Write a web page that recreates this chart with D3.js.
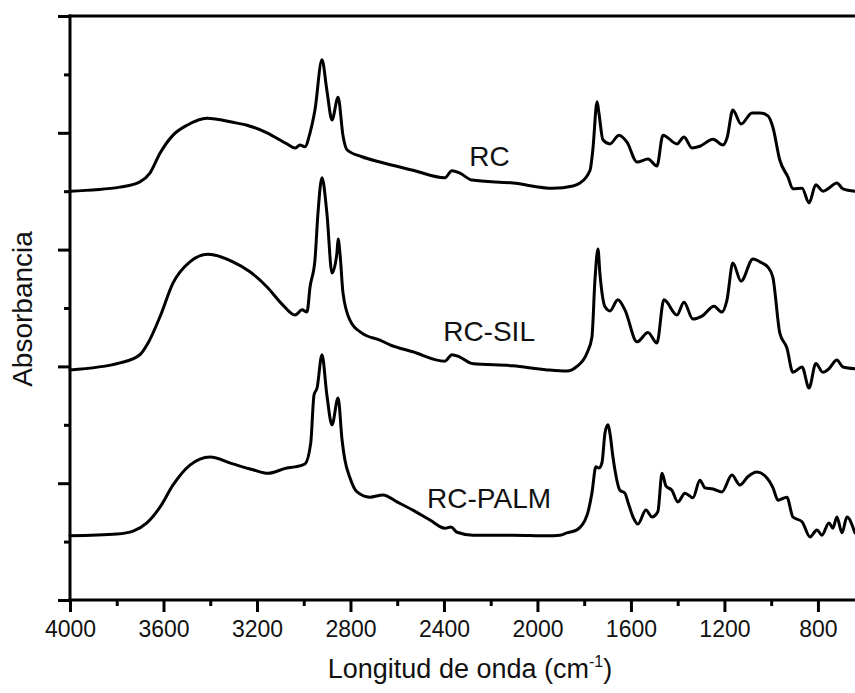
<!DOCTYPE html>
<html>
<head>
<meta charset="utf-8">
<script src="https://cdn.jsdelivr.net/npm/d3@7"></script>
<style>
  html, body { margin: 0; padding: 0; background: #ffffff; }
  svg { display: block; }
  text { font-family: "Liberation Sans", Arial, Helvetica, sans-serif; fill: #111; }
</style>
</head>
<body>
<svg id="chart" width="855" height="693"></svg>
<script>
// FTIR spectra, wavenumber (cm-1) vs absorbance (offset, arbitrary units)
const seriesNames = ["RC", "RC-SIL", "RC-PALM"];

const rcWavenumber = [4000, 3786, 3701, 3658, 3615, 3559, 3499, 3414, 3303, 3243, 3157, 3072, 3037, 3016, 2995, 2973, 2952, 2922, 2901, 2879, 2853, 2832, 2815, 2751, 2674, 2533, 2396, 2366, 2332, 2280, 2105, 1934, 1848, 1818, 1775, 1763, 1745, 1737, 1720, 1690, 1651, 1617, 1574, 1527, 1489, 1463, 1403, 1373, 1339, 1305, 1249, 1206, 1189, 1164, 1129, 1082, 1048, 1014, 993, 963, 928, 907, 868, 838, 809, 779, 757, 719, 693, 642];
const rcAbsorbance = [7.00, 7.07, 7.16, 7.31, 7.65, 7.96, 8.13, 8.25, 8.18, 8.13, 8.00, 7.81, 7.74, 7.79, 7.76, 8.00, 8.39, 9.25, 8.73, 8.22, 8.61, 7.95, 7.71, 7.59, 7.50, 7.36, 7.23, 7.35, 7.31, 7.19, 7.14, 7.05, 7.09, 7.14, 7.36, 7.71, 8.53, 8.34, 7.88, 7.81, 7.96, 7.84, 7.50, 7.55, 7.43, 7.96, 7.81, 7.93, 7.74, 7.77, 7.89, 7.79, 7.91, 8.39, 8.15, 8.34, 8.34, 8.29, 8.10, 7.53, 7.24, 7.04, 7.05, 6.80, 7.11, 7.00, 7.04, 7.14, 7.04, 7.00];

const silWavenumber = [4000, 3786, 3701, 3666, 3615, 3559, 3487, 3410, 3303, 3230, 3157, 3089, 3037, 3007, 2986, 2973, 2952, 2939, 2922, 2901, 2879, 2858, 2853, 2845, 2832, 2802, 2751, 2674, 2631, 2533, 2396, 2366, 2332, 2280, 2105, 1959, 1874, 1831, 1788, 1767, 1754, 1741, 1733, 1711, 1690, 1656, 1626, 1574, 1527, 1489, 1459, 1403, 1373, 1335, 1296, 1245, 1211, 1189, 1164, 1129, 1078, 1048, 1014, 993, 963, 933, 907, 868, 838, 809, 779, 753, 719, 693, 642];
const silAbsorbance = [3.94, 4.06, 4.20, 4.40, 4.85, 5.43, 5.79, 5.92, 5.79, 5.62, 5.36, 5.05, 4.88, 4.97, 4.93, 5.36, 5.82, 6.63, 7.23, 6.63, 5.60, 5.94, 6.18, 5.94, 5.26, 4.79, 4.57, 4.45, 4.37, 4.25, 4.09, 4.20, 4.16, 4.05, 4.01, 3.94, 3.92, 4.00, 4.23, 4.50, 5.48, 6.01, 5.60, 5.02, 4.95, 5.14, 4.97, 4.42, 4.58, 4.40, 5.14, 4.88, 5.10, 4.81, 4.86, 5.03, 4.93, 5.14, 5.77, 5.46, 5.84, 5.79, 5.70, 5.53, 4.57, 4.32, 3.90, 3.99, 3.63, 4.05, 3.90, 3.96, 4.11, 3.99, 3.96];

const palmWavenumber = [4000, 3799, 3730, 3671, 3615, 3559, 3487, 3401, 3303, 3217, 3153, 3072, 3037, 2995, 2970, 2956, 2943, 2922, 2901, 2879, 2853, 2836, 2824, 2802, 2772, 2717, 2661, 2601, 2533, 2460, 2396, 2370, 2344, 2276, 2105, 1959, 1904, 1874, 1831, 1788, 1767, 1750, 1737, 1724, 1711, 1698, 1690, 1677, 1647, 1626, 1613, 1591, 1570, 1536, 1510, 1485, 1467, 1450, 1425, 1399, 1369, 1335, 1305, 1283, 1249, 1211, 1168, 1134, 1100, 1061, 1018, 993, 971, 933, 907, 868, 834, 804, 783, 753, 736, 719, 697, 676, 642];
const palmAbsorbance = [1.10, 1.13, 1.18, 1.32, 1.59, 1.97, 2.31, 2.45, 2.33, 2.23, 2.17, 2.26, 2.28, 2.33, 2.69, 3.51, 3.63, 4.20, 3.51, 3.00, 3.46, 2.74, 2.40, 2.09, 1.85, 1.76, 1.80, 1.68, 1.54, 1.37, 1.23, 1.25, 1.16, 1.11, 1.11, 1.10, 1.11, 1.15, 1.20, 1.45, 1.83, 2.28, 2.26, 2.35, 2.86, 3.00, 2.86, 2.45, 1.88, 1.83, 1.68, 1.42, 1.30, 1.54, 1.42, 1.51, 2.17, 1.95, 1.88, 1.68, 1.83, 1.75, 2.05, 1.92, 1.90, 1.85, 2.14, 1.97, 2.11, 2.19, 2.09, 1.93, 1.71, 1.76, 1.42, 1.34, 1.08, 1.20, 1.11, 1.32, 1.23, 1.42, 1.15, 1.42, 1.15];

// Curve labels and the wavenumber / absorbance their baselines sit at
const labelWavenumber = [2205, 2207, 2207];
const labelAbsorbance = [7.43, 4.43, 1.58];

const xTickMajor = [4000, 3600, 3200, 2800, 2400, 2000, 1600, 1200, 800];
const xTickMinor = [3800, 3400, 3000, 2600, 2200, 1800, 1400, 1000];
const yTickMajor = [0, 2, 4, 6, 8, 10];
const yTickMinor = [1, 3, 5, 7, 9];

const xTitle = "Longitud de onda (cm";
const yTitle = "Absorbancia";

const svg = d3.select("#chart");
svg.append("rect").attr("width", 855).attr("height", 693).attr("fill", "#ffffff");

const x = d3.scaleLinear().domain([4000, 620]).range([70, 860]);
const y = d3.scaleLinear().domain([0, 10]).range([600, 16]);

const spectra = [
  rcWavenumber.map((w, i) => ({ w, a: rcAbsorbance[i] })),
  silWavenumber.map((w, i) => ({ w, a: silAbsorbance[i] })),
  palmWavenumber.map((w, i) => ({ w, a: palmAbsorbance[i] }))
];

const line = d3.line()
  .x(d => x(d.w))
  .y(d => y(d.a))
  .curve(d3.curveMonotoneX);

svg.append("g")
  .selectAll("path")
  .data(spectra)
  .join("path")
  .attr("d", line)
  .attr("fill", "none")
  .attr("stroke", "#000")
  .attr("stroke-width", 3)
  .attr("stroke-linejoin", "round")
  .attr("stroke-linecap", "round");

// Bottom axis: labelled major ticks + short minor ticks
const xAxisMajor = d3.axisBottom(x).tickValues(xTickMajor).tickSize(12).tickPadding(9).tickFormat(d3.format("d"));
const xAxisMinor = d3.axisBottom(x).tickValues(xTickMinor).tickSize(6).tickFormat("");

const gxMinor = svg.append("g").attr("transform", `translate(0,${y(0)})`).call(xAxisMinor);
const gx = svg.append("g").attr("transform", `translate(0,${y(0)})`).call(xAxisMajor);
[gx, gxMinor].forEach(g => {
  g.select(".domain").remove();
  g.selectAll(".tick line").attr("stroke", "#000").attr("stroke-width", 3);
});
gx.selectAll(".tick text")
  .attr("font-size", 23)
  .attr("fill", "#111")
  .style("font-family", '"Liberation Sans", Arial, sans-serif');

// Left axis: unlabelled major and minor ticks
const yAxisMajor = d3.axisLeft(y).tickValues(yTickMajor).tickSize(12).tickFormat("");
const yAxisMinor = d3.axisLeft(y).tickValues(yTickMinor).tickSize(6).tickFormat("");
[yAxisMajor, yAxisMinor].forEach(ax => {
  const g = svg.append("g").attr("transform", `translate(${x(4000)},0)`).call(ax);
  g.select(".domain").remove();
  g.selectAll(".tick line").attr("stroke", "#000").attr("stroke-width", 3);
});

// Frame lines: left, bottom and top
const frame = svg.append("g").attr("stroke", "#000").attr("stroke-width", 3).attr("stroke-linecap", "square");
frame.append("line").attr("x1", x(4000)).attr("x2", x(4000)).attr("y1", y(10)).attr("y2", y(0));
frame.append("line").attr("x1", x(4000)).attr("x2", x(620)).attr("y1", y(0)).attr("y2", y(0));
frame.append("line").attr("x1", x(4000)).attr("x2", x(620)).attr("y1", y(10)).attr("y2", y(10));

// Curve labels
svg.append("g")
  .selectAll("text")
  .data(seriesNames)
  .join("text")
  .attr("x", (d, i) => x(labelWavenumber[i]))
  .attr("y", (d, i) => y(labelAbsorbance[i]))
  .attr("text-anchor", "middle")
  .attr("font-size", 28)
  .text(d => d);

// Axis titles
const xt = svg.append("text")
  .attr("x", 470)
  .attr("y", 678)
  .attr("text-anchor", "middle")
  .attr("font-size", 27);
xt.append("tspan").text(xTitle);
xt.append("tspan").attr("dy", -11).attr("font-size", 16).text("-1");
xt.append("tspan").attr("dy", 11).text(")");

svg.append("text")
  .attr("transform", `translate(32,309) rotate(-90)`)
  .attr("text-anchor", "middle")
  .attr("font-size", 28)
  .text(yTitle);
</script>
</body>
</html>
